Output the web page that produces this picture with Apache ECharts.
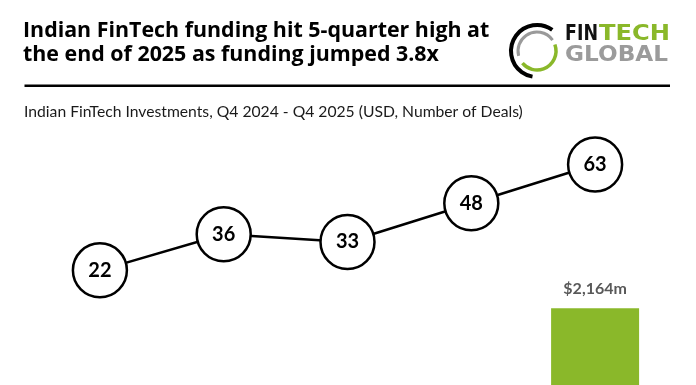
<!DOCTYPE html>
<html>
<head>
<meta charset="utf-8">
<script src="https://cdn.jsdelivr.net/npm/echarts@6/dist/echarts.min.js"></script>
<style>
html,body{margin:0;padding:0;background:#fff;overflow:hidden;}
#chart{width:696px;height:385px;}
</style>
</head>
<body>
<div id="chart"></div>
<script>
// Data
const quarters = ['Q4 2024', 'Q1 2025', 'Q2 2025', 'Q3 2025', 'Q4 2025'];
const fundingUSDm = [1010, 760, 640, 570, 2164];   // only Q4 2025 visible in the cropped chart; others estimated
const dealCounts = [22, 36, 33, 48, 63];
const titleText = 'Indian FinTech funding hit 5-quarter high at\nthe end of 2025 as funding jumped 3.8x';
const subtitleText = 'Indian FinTech Investments, Q4 2024 - Q4 2025 (USD, Number of Deals)';

function fmtMoney(v) {
  return '$' + String(v).replace(/\B(?=(\d{3})+(?!\d))/g, ',') + 'm';
}

const chart = echarts.init(document.getElementById('chart'), null, {renderer: 'canvas'});
const deg = Math.PI / 180;
chart.setOption({
  animation: false,
  backgroundColor: '#ffffff',
  title: [
    {
      text: titleText, left: 23, top: 19, padding: 0,
      textStyle: {fontFamily: 'Open Sans', fontWeight: 'bold', fontSize: 21.4, lineHeight: 24, color: '#000000'}
    },
    {
      text: subtitleText, left: 24, top: 103, padding: 0,
      textStyle: {fontFamily: 'Lato', fontWeight: 'normal', fontSize: 15.7, lineHeight: 18, color: '#1a1a1a'}
    }
  ],
  graphic: [
    {type: 'line', shape: {x1: 24.5, y1: 85.7, x2: 670, y2: 85.7}, style: {stroke: '#000', lineWidth: 2.5}},
    {type: 'arc', shape: {cx: 537, cy: 51, r: 26, startAngle: -54 * deg, endAngle: 100 * deg, clockwise: false},
      style: {stroke: '#000', lineWidth: 4, fill: null}},
    {type: 'arc', shape: {cx: 537, cy: 51, r: 19, startAngle: -35 * deg, endAngle: 165 * deg, clockwise: false},
      style: {stroke: '#9a9a9a', lineWidth: 3, fill: null}},
    {type: 'arc', shape: {cx: 537, cy: 51, r: 19, startAngle: -20 * deg, endAngle: 140 * deg, clockwise: true},
      style: {stroke: '#8ab82a', lineWidth: 3.5, fill: null}},
    {type: 'text', x: 565, y: 34.5, scaleX: 0.85,
      style: {text: 'FIN', fontFamily: 'DejaVu Sans', fontWeight: 'bold', fontSize: 20.5, fill: '#111111', verticalAlign: 'middle', align: 'left'}},
    {type: 'text', x: 599, y: 34.5, scaleX: 1.18,
      style: {text: 'TECH', fontFamily: 'DejaVu Sans', fontWeight: 'bold', fontSize: 20.5, fill: '#8ab82a', verticalAlign: 'middle', align: 'left'}},
    {type: 'text', x: 565, y: 56, scaleX: 1.13,
      style: {text: 'GLOBAL', fontFamily: 'DejaVu Sans', fontWeight: 'bold', fontSize: 20.5, fill: '#9b9b9b', verticalAlign: 'middle', align: 'left'}}
  ],
  grid: [
    {left: 38, right: 39, top: 263, bottom: 0},
    {left: 38, right: 39, top: 120.7, bottom: 57.9}
  ],
  xAxis: [
    {type: 'category', gridIndex: 0, data: quarters, show: false},
    {type: 'category', gridIndex: 1, data: quarters, show: false}
  ],
  yAxis: [
    // bar axis: the picture is cropped at the bottom, so the visible range starts well above zero
    {type: 'value', gridIndex: 0, min: 1595, max: 2500, show: false, scale: true},
    {type: 'value', gridIndex: 1, min: 0, max: 80, show: false}
  ],
  series: [
    {
      type: 'bar', xAxisIndex: 0, yAxisIndex: 0, data: fundingUSDm, barWidth: 88, clip: true,
      itemStyle: {color: '#8ab82a'},
      label: {show: true, position: 'top', distance: 11, formatter: p => fmtMoney(p.value),
        fontFamily: 'Lato', fontWeight: 'bold', fontSize: 16, color: '#595959'},
      z: 1
    },
    {
      type: 'line', xAxisIndex: 1, yAxisIndex: 1, data: dealCounts,
      symbol: 'circle', symbolSize: 54,
      lineStyle: {color: '#000', width: 2.5},
      itemStyle: {color: '#ffffff', borderColor: '#000', borderWidth: 2.5},
      label: {show: true, position: 'inside', fontFamily: 'Lato', fontWeight: 'bold', fontSize: 20, color: '#000'},
      z: 5
    }
  ]
});
</script>
</body>
</html>
